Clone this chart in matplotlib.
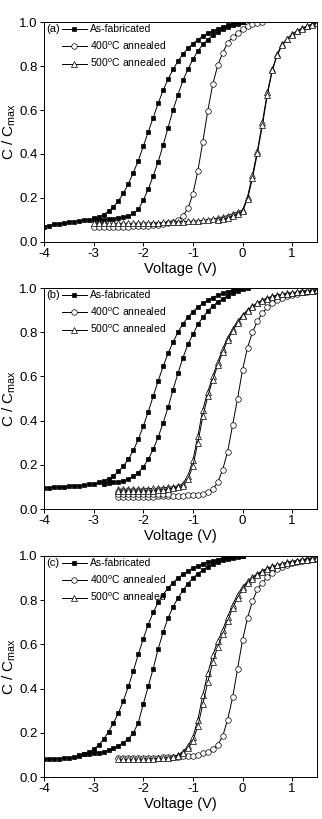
import numpy as np
import matplotlib
matplotlib.use("Agg")
import matplotlib.pyplot as plt
from matplotlib.lines import Line2D

plt.rcParams['font.family'] = ['Liberation Sans', 'DejaVu Sans']
plt.rcParams['mathtext.fontset'] = 'custom'
plt.rcParams['mathtext.rm'] = 'Liberation Sans'
plt.rcParams['mathtext.it'] = 'Liberation Sans:italic'
plt.rcParams['axes.unicode_minus'] = False

STEP = 0.1  # voltage sweep step (V)

# ---------------- panel (a) ----------------
a_fab1_start = -4.0
a_fab1 = [0.070, 0.075, 0.080, 0.083, 0.086, 0.089, 0.092, 0.095, 0.098, 0.102,
          0.107, 0.113, 0.125, 0.140, 0.160, 0.187, 0.222, 0.265, 0.315, 0.370,
          0.435, 0.500, 0.565, 0.630, 0.690, 0.740, 0.785, 0.822, 0.855, 0.880,
          0.902, 0.920, 0.935, 0.948, 0.958, 0.968, 0.977, 0.985, 0.990, 0.995, 1.000]
a_fab2_start = -3.0
a_fab2 = [0.100, 0.100, 0.102, 0.104, 0.106, 0.108, 0.112, 0.118, 0.130, 0.148,
          0.190, 0.240, 0.300, 0.365, 0.440, 0.520, 0.600, 0.670, 0.735, 0.785,
          0.830, 0.868, 0.898, 0.920, 0.940, 0.955, 0.966, 0.976, 0.985, 0.993, 1.000]
a_400_start = -3.0
a_400 = [0.070, 0.070, 0.070, 0.070, 0.070, 0.070, 0.070, 0.070, 0.071, 0.072,
         0.073, 0.074, 0.076, 0.078, 0.080, 0.085, 0.090, 0.100, 0.118, 0.153,
         0.218, 0.324, 0.456, 0.597, 0.717, 0.803, 0.860, 0.906, 0.930, 0.950,
         0.967, 0.980, 0.990, 0.997, 1.000]
a_500a_start = -3.0
a_500a = [0.085, 0.085, 0.085, 0.085, 0.085, 0.085, 0.085, 0.085, 0.085, 0.086,
          0.086, 0.087, 0.087, 0.088, 0.089, 0.090, 0.091, 0.092, 0.093, 0.094,
          0.095, 0.097, 0.099, 0.102, 0.105, 0.109, 0.114, 0.120, 0.128, 0.137,
          0.145, 0.205, 0.305, 0.415, 0.545, 0.680, 0.785, 0.855, 0.900, 0.925,
          0.945, 0.960, 0.972, 0.982, 0.990, 1.000]
a_500b_start = -0.5
a_500b = [0.100, 0.104, 0.110, 0.118, 0.128, 0.140, 0.195, 0.290, 0.405, 0.530,
          0.670, 0.780, 0.850, 0.895, 0.922, 0.943, 0.958, 0.970, 0.980, 0.988, 0.996]

# ---------------- panel (b) ----------------
b_fab1_start = -4.0
b_fab1 = [0.095, 0.097, 0.098, 0.099, 0.100, 0.102, 0.104, 0.106, 0.108, 0.111,
          0.115, 0.120, 0.127, 0.137, 0.150, 0.170, 0.195, 0.225, 0.265, 0.315,
          0.375, 0.440, 0.510, 0.580, 0.645, 0.705, 0.755, 0.800, 0.838, 0.868,
          0.893, 0.913, 0.930, 0.945, 0.957, 0.967, 0.976, 0.984, 0.990, 0.996, 1.000]
b_fab2_start = -2.8
b_fab2 = [0.115, 0.117, 0.120, 0.123, 0.128, 0.136, 0.148, 0.165, 0.190, 0.225,
          0.270, 0.325, 0.390, 0.460, 0.540, 0.615, 0.685, 0.745, 0.790, 0.835,
          0.868, 0.895, 0.918, 0.937, 0.952, 0.965, 0.976, 0.986, 0.994, 1.000]
b_400a_start = -2.5
b_400a = [0.055, 0.055, 0.055, 0.055, 0.055, 0.055, 0.056, 0.056, 0.057, 0.057,
          0.058, 0.059, 0.060, 0.061, 0.062, 0.063, 0.065, 0.068, 0.075, 0.090,
          0.120, 0.178, 0.260, 0.380, 0.500, 0.630, 0.730, 0.800, 0.850, 0.887,
          0.912, 0.930, 0.945, 0.955, 0.963, 0.970, 0.975, 0.980, 0.983, 0.986, 0.988]
b_400b_start = -2.5
b_400b = [0.068, 0.068, 0.068, 0.068, 0.068, 0.068, 0.068, 0.068, 0.069, 0.069,
          0.070]
b_500a_start = -2.5
b_500a = [0.090, 0.090, 0.090, 0.090, 0.090, 0.091, 0.092, 0.093, 0.094, 0.096,
          0.098, 0.101, 0.105, 0.115, 0.150, 0.220, 0.330, 0.450, 0.530, 0.600,
          0.665, 0.725, 0.775, 0.815, 0.850, 0.877, 0.900, 0.918, 0.933, 0.945,
          0.955, 0.962, 0.968, 0.972, 0.976, 0.979, 0.982, 0.984, 0.986, 0.988, 0.990]
b_500b_start = -2.5
b_500b = [0.080, 0.080, 0.080, 0.080, 0.080, 0.081, 0.082, 0.083, 0.085, 0.087,
          0.090, 0.094, 0.099, 0.105, 0.135, 0.195, 0.300, 0.420, 0.510, 0.585,
          0.650, 0.710, 0.765, 0.805, 0.842, 0.872, 0.895, 0.915, 0.930, 0.942,
          0.952, 0.960, 0.966, 0.971, 0.975, 0.978, 0.981, 0.983, 0.985, 0.987, 0.989]

# ---------------- panel (c) ----------------
c_fab1_start = -4.0
c_fab1 = [0.080, 0.081, 0.082, 0.083, 0.085, 0.087, 0.090, 0.095, 0.102, 0.112,
          0.125, 0.145, 0.170, 0.205, 0.245, 0.290, 0.345, 0.410, 0.480, 0.555,
          0.625, 0.690, 0.745, 0.790, 0.825, 0.855, 0.880, 0.900, 0.917, 0.932,
          0.945, 0.955, 0.964, 0.972, 0.978, 0.984, 0.989, 0.993, 0.996, 0.998, 1.000]
c_fab2_start = -3.3
c_fab2 = [0.100, 0.102, 0.104, 0.107, 0.110, 0.114, 0.120, 0.130, 0.142, 0.156,
          0.172, 0.200, 0.245, 0.330, 0.410, 0.490, 0.580, 0.655, 0.720, 0.770,
          0.810, 0.845, 0.875, 0.900, 0.920, 0.937, 0.952, 0.963, 0.972, 0.980,
          0.987, 0.992, 0.996, 1.000]
c_400_start = -2.5
c_400 = [0.085, 0.085, 0.085, 0.085, 0.086, 0.086, 0.087, 0.087, 0.088, 0.089,
         0.090, 0.091, 0.092, 0.093, 0.094, 0.095, 0.100, 0.107, 0.115, 0.128,
         0.145, 0.185, 0.260, 0.360, 0.490, 0.620, 0.720, 0.795, 0.850, 0.880,
         0.905, 0.925, 0.940, 0.952, 0.960, 0.967, 0.972, 0.977, 0.981, 0.985, 0.988]
c_500a_start = -2.5
c_500a = [0.080, 0.080, 0.080, 0.080, 0.081, 0.081, 0.082, 0.083, 0.084, 0.086,
          0.088, 0.092, 0.100, 0.115, 0.140, 0.180, 0.260, 0.370, 0.470, 0.550,
          0.615, 0.665, 0.725, 0.780, 0.825, 0.860, 0.885, 0.905, 0.920, 0.933,
          0.944, 0.953, 0.960, 0.966, 0.971, 0.975, 0.979, 0.982, 0.985, 0.987, 0.990]
c_500b_start = -1.3
c_500b = [0.095, 0.108, 0.130, 0.165, 0.230, 0.330, 0.430, 0.520, 0.590, 0.645,
          0.705, 0.765, 0.810, 0.850, 0.878, 0.898, 0.915, 0.929, 0.940, 0.950,
          0.958, 0.964, 0.970, 0.974, 0.978, 0.981, 0.984, 0.986]

panels = [
    ("(a)", [("sq", a_fab1_start, a_fab1), ("sq", a_fab2_start, a_fab2),
             ("ci", a_400_start, a_400),
             ("tr", a_500a_start, a_500a), ("tr", a_500b_start, a_500b)]),
    ("(b)", [("sq", b_fab1_start, b_fab1), ("sq", b_fab2_start, b_fab2),
             ("ci", b_400a_start, b_400a), ("ci", b_400b_start, b_400b),
             ("tr", b_500a_start, b_500a), ("tr", b_500b_start, b_500b)]),
    ("(c)", [("sq", c_fab1_start, c_fab1), ("sq", c_fab2_start, c_fab2),
             ("ci", c_400_start, c_400),
             ("tr", c_500a_start, c_500a), ("tr", c_500b_start, c_500b)]),
]

legend_labels = ["As-fabricated", "400$^{\\rm o}$C annealed", "500$^{\\rm o}$C annealed"]
styles = {
    "sq": dict(marker="s", markersize=3.5, markerfacecolor="black"),
    "ci": dict(marker="o", markersize=4.0, markerfacecolor="white"),
    "tr": dict(marker="^", markersize=4.3, markerfacecolor="white"),
}

xticks = [-4, -3, -2, -1, 0, 1]
yticks = [0.0, 0.2, 0.4, 0.6, 0.8, 1.0]

W, H = 322, 819
fig = plt.figure(figsize=(W / 100, H / 100), dpi=100)
left_px, right_px = 44, 317
tops_px = [22, 288, 556]
bottoms_px = [242, 509, 777]

for i, (tag, curves) in enumerate(panels):
    hpx = bottoms_px[i] - tops_px[i]
    ax = fig.add_axes([left_px / W, 1 - bottoms_px[i] / H,
                       (right_px - left_px) / W, hpx / H])
    for kind, start, vals in curves:
        x = start + STEP * np.arange(len(vals))
        ax.plot(x, vals, color="black", linewidth=0.7,
                markeredgecolor="black", markeredgewidth=0.5, **styles[kind])
    ax.set_xlim(-4, 1.5)
    ax.set_ylim(0, 1.0)
    ax.set_xticks(xticks)
    ax.set_xticklabels([str(t) for t in xticks])
    ax.set_yticks(yticks)
    ax.set_yticklabels(["%.1f" % t for t in yticks])
    ax.tick_params(direction="out", length=3, width=0.7, labelsize=9.5, pad=1.5)
    for s in ax.spines.values():
        s.set_linewidth(0.7)
    ax.set_xlabel("Voltage (V)", fontsize=10.5, labelpad=1)
    ax.set_ylabel("C / C$_{\\rm max}$", fontsize=11, labelpad=1)

    handles = [Line2D([], [], color="black", linewidth=0.7, markeredgecolor="black",
                      markeredgewidth=0.5, **styles[k]) for k in ("sq", "ci", "tr")]
    ax.legend(handles, legend_labels, loc="upper left",
              bbox_to_anchor=(0.05, 1 + 2 / hpx),
              frameon=False, fontsize=7.5, handlelength=2.4, handletextpad=0.3,
              labelspacing=0.5, borderaxespad=0.0)
    ax.text(0.008, 1 - 7 / hpx, tag, transform=ax.transAxes, fontsize=8,
            ha="left", va="center")

fig.savefig("out.png", dpi=100)
